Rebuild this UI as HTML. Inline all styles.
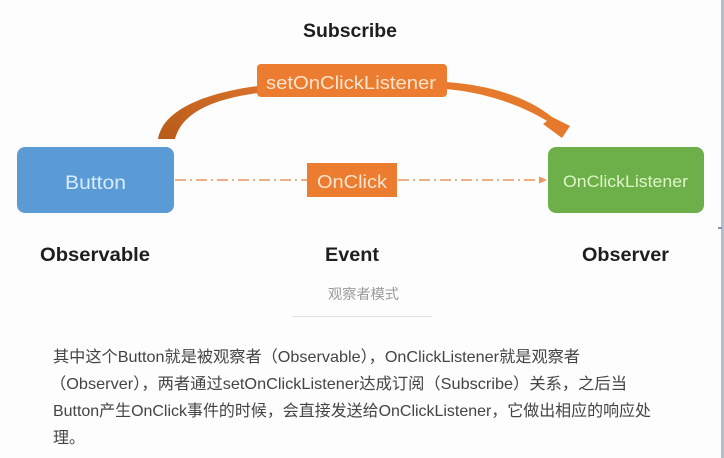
<!DOCTYPE html>
<html><head><meta charset="utf-8"><style>
html,body{margin:0;padding:0;background:#fdfdfd;}
svg{display:block;}
</style></head><body>
<svg width="724" height="458" viewBox="0 0 724 458" xmlns="http://www.w3.org/2000/svg">
<defs>
<linearGradient id="lg" x1="0" y1="1" x2="1" y2="0">
<stop offset="0" stop-color="#b85a19"/>
<stop offset="1" stop-color="#d8712a"/>
</linearGradient>
</defs>
<rect x="0" y="0" width="724" height="458" fill="#fdfdfd"/>
<rect x="721" y="0" width="3" height="458" fill="#b4bccd"/>
<rect x="718" y="227" width="4" height="2" fill="#8a93a8"/>

<text x="303" y="37" font-family="Liberation Sans, sans-serif" font-weight="bold" font-size="19" fill="#1e1e1e" textLength="94" lengthAdjust="spacingAndGlyphs">Subscribe</text>

<path d="M158,139 C162,114 196,94 258,86 L258,93 C206,100 181,116 175,139 Z" fill="url(#lg)"/>
<path d="M446,82 C488,85 526,96 552,117 L570,126 L562,138 L543,124 L547,121 C524,107 490,93 446,89 Z" fill="#e67a2c"/>

<rect x="257" y="64" width="190" height="33" rx="4" fill="#ec7c30"/>
<text x="266" y="89" font-family="Liberation Sans, sans-serif" font-size="18" fill="#fde4cf" textLength="170" lengthAdjust="spacingAndGlyphs">setOnClickListener</text>

<rect x="17" y="147" width="157" height="66" rx="8" fill="#5b9bd5"/>
<text x="65" y="189" font-family="Liberation Sans, sans-serif" font-size="19" fill="#d8ecff" textLength="61" lengthAdjust="spacingAndGlyphs">Button</text>

<line x1="175" y1="180" x2="307" y2="180" stroke="#e8965c" stroke-width="1.6" stroke-dasharray="11,4,2,4"/>
<line x1="398" y1="180" x2="541" y2="180" stroke="#e8965c" stroke-width="1.6" stroke-dasharray="11,4,2,4"/>
<path d="M539,176.5 L547,180 L539,183.5 Z" fill="#e8965c"/>

<rect x="307" y="163" width="90" height="34" fill="#ec7c30"/>
<text x="317" y="188" font-family="Liberation Sans, sans-serif" font-size="18" fill="#fde4cf" textLength="70" lengthAdjust="spacingAndGlyphs">OnClick</text>

<rect x="548" y="147" width="156" height="66" rx="8" fill="#6daf49"/>
<text x="563" y="187" font-family="Liberation Sans, sans-serif" font-size="17" fill="#dcf6c8" textLength="125" lengthAdjust="spacingAndGlyphs">OnClickListener</text>

<text x="40" y="261" font-family="Liberation Sans, sans-serif" font-weight="bold" font-size="19" fill="#1e1e1e" textLength="110" lengthAdjust="spacingAndGlyphs">Observable</text>
<text x="325" y="261" font-family="Liberation Sans, sans-serif" font-weight="bold" font-size="19" fill="#1e1e1e" textLength="54" lengthAdjust="spacingAndGlyphs">Event</text>
<text x="582" y="261" font-family="Liberation Sans, sans-serif" font-weight="bold" font-size="19" fill="#1e1e1e" textLength="87" lengthAdjust="spacingAndGlyphs">Observer</text>

<text x="328" y="299" font-family="Liberation Sans, Noto Sans CJK SC, sans-serif" font-size="14" fill="#9a9a9a" textLength="71" lengthAdjust="spacingAndGlyphs">观察者模式</text>
<line x1="292" y1="316.5" x2="432" y2="316.5" stroke="#e2e2e2" stroke-width="1"/>

<g font-family="Liberation Sans, Noto Sans CJK SC, sans-serif" font-size="16" fill="#444">
<text x="53" y="362" textLength="527" lengthAdjust="spacingAndGlyphs">其中这个Button就是被观察者（Observable），OnClickListener就是观察者</text>
<text x="50" y="389" textLength="577" lengthAdjust="spacingAndGlyphs">（Observer），两者通过setOnClickListener达成订阅（Subscribe）关系，之后当</text>
<text x="53" y="416" textLength="598" lengthAdjust="spacingAndGlyphs">Button产生OnClick事件的时候，会直接发送给OnClickListener，它做出相应的响应处</text>
<text x="53" y="443">理。</text>
</g>
</svg>
</body></html>
